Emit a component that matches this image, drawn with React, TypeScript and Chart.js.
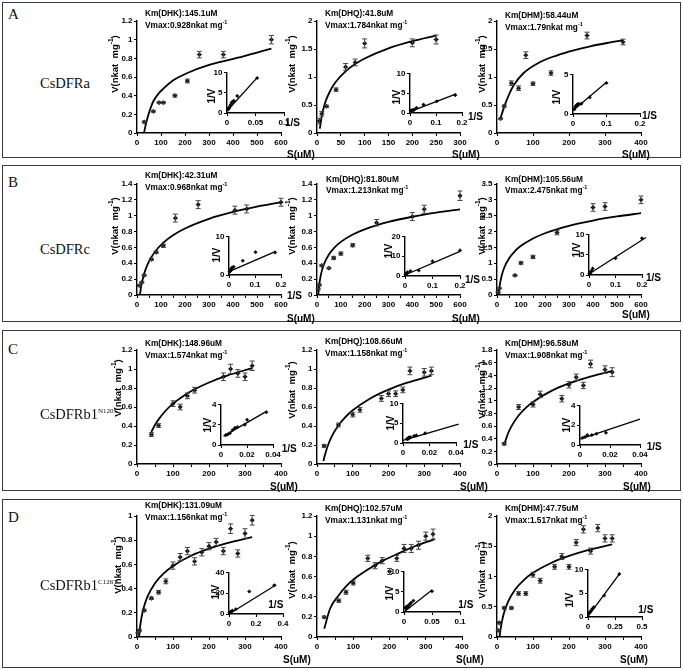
import React, { useEffect, useRef } from 'react';
import { Chart, registerables } from 'chart.js';
Chart.register(...registerables);

// ---------------- DATA ----------------
// Row A – CsDFRa
const A1_S = [30, 68, 92, 110, 158, 210, 260, 360, 560];
const A1_V = [0.118, 0.232, 0.325, 0.325, 0.40, 0.557, 0.84, 0.84, 1.0];
const A1_E = [0.01, 0.01, 0.01, 0.01, 0.015, 0.02, 0.035, 0.035, 0.045];
const A1_FS = [29, 37.5, 47, 57, 68, 89, 110, 151, 210, 304, 443, 560];
const A1_FV = [0, 0.10, 0.19, 0.27, 0.34, 0.42, 0.475, 0.564, 0.643, 0.732, 0.821, 0.904];
const A1_IX = [0.002, 0.003, 0.004, 0.006, 0.008, 0.010, 0.012, 0.018, 0.053];
const A1_IY = [0.9, 1.2, 1.3, 1.9, 2.5, 2.8, 3.0, 4.2, 8.6];
const A1_LX = [0, 0.053];
const A1_LY = [0.5, 8.7];

const A2_S = [5, 10, 20, 40, 60, 80, 100, 200, 250];
const A2_V = [0.214, 0.345, 0.476, 0.774, 1.18, 1.26, 1.6, 1.61, 1.67];
const A2_E = [0.05, 0.04, 0.02, 0.03, 0.06, 0.06, 0.08, 0.07, 0.08];
const A2_FS = [6, 7, 10, 15, 20, 30, 40, 60, 80, 100, 150, 200, 250];
const A2_FV = [0.08, 0.141, 0.30, 0.482, 0.61, 0.791, 0.92, 1.101, 1.23, 1.33, 1.511, 1.639, 1.739];
const A2_IX = [0.004, 0.005, 0.01, 0.0125, 0.0167, 0.025, 0.052, 0.103, 0.174];
const A2_IY = [0.6, 0.62, 0.63, 0.79, 0.85, 1.3, 2.1, 2.95, 4.5];
const A2_LX = [0, 0.178];
const A2_LY = [0.35, 4.8];

const A3_S = [10, 20, 40, 60, 80, 100, 150, 250, 350];
const A3_V = [0.256, 0.48, 0.89, 0.80, 1.39, 0.88, 1.07, 1.74, 1.625];
const A3_E = [0.01, 0.02, 0.04, 0.04, 0.06, 0.03, 0.04, 0.06, 0.05];
const A3_FS = [9.3, 20.4, 32.4, 46.3, 74, 120, 167, 213, 259, 306, 350];
const A3_FV = [0.256, 0.476, 0.673, 0.851, 1.071, 1.268, 1.387, 1.476, 1.548, 1.607, 1.655];
const A3_IX = [0.003, 0.004, 0.007, 0.01, 0.013, 0.017, 0.025, 0.05, 0.1];
const A3_IY = [0.6, 0.6, 0.9, 1.1, 1.2, 1.3, 1.3, 2.1, 3.9];
const A3_LX = [0, 0.1];
const A3_LY = [0.45, 4.0];

// Row B – CsDFRc
const B1_S = [10, 20, 30, 60, 80, 110, 160, 255, 408, 457, 600];
const B1_V = [0.12, 0.16, 0.25, 0.45, 0.54, 0.62, 0.97, 1.14, 1.07, 1.085, 1.17];
const B1_E = [0.01, 0.01, 0.01, 0.015, 0.015, 0.02, 0.05, 0.05, 0.05, 0.05, 0.05];
const B1_FS = [12.5, 15, 20, 30, 45, 60, 80, 110, 150, 200, 300, 400, 500, 600];
const B1_FV = [0.008, 0.062, 0.149, 0.27, 0.392, 0.478, 0.565, 0.66, 0.753, 0.839, 0.961, 1.047, 1.114, 1.169];
const B1_IX = [0.0025, 0.004, 0.006, 0.009, 0.012, 0.018, 0.053, 0.102, 0.177];
const B1_IY = [0.85, 1.0, 1.2, 1.7, 1.9, 2.1, 3.7, 5.9, 5.8];
const B1_LX = [0, 0.18];
const B1_LY = [0.85, 6.1];

const B2_S = [5, 10, 20, 50, 70, 100, 150, 250, 400, 450, 600];
const B2_V = [0.076, 0.127, 0.373, 0.339, 0.467, 0.522, 0.628, 0.912, 0.989, 1.082, 1.252];
const B2_E = [0.01, 0.01, 0.01, 0.01, 0.02, 0.02, 0.02, 0.04, 0.05, 0.05, 0.06];
const B2_FS = [5.5, 7, 10, 15, 20, 30, 50, 75, 100, 150, 200, 300, 400, 500, 600];
const B2_FV = [0.005, 0.061, 0.142, 0.235, 0.301, 0.394, 0.511, 0.604, 0.67, 0.763, 0.828, 0.921, 0.987, 1.038, 1.08];
const B2_IX = [0.002, 0.004, 0.007, 0.01, 0.02, 0.05, 0.1, 0.2];
const B2_IY = [0.8, 1.1, 1.6, 1.9, 2.5, 2.8, 7.4, 12.9];
const B2_LX = [0, 0.2];
const B2_LY = [0.5, 12.4];

const B3_S = [5, 10, 75, 100, 150, 250, 400, 450, 600];
const B3_V = [0.085, 0.21, 0.62, 1.01, 1.2, 1.97, 2.76, 2.79, 3.0];
const B3_E = [0.02, 0.02, 0.03, 0.04, 0.05, 0.07, 0.12, 0.12, 0.12];
const B3_FS = [7, 10, 15, 20, 30, 50, 75, 100, 150, 200, 300, 400, 500, 600];
const B3_FV = [0.021, 0.226, 0.459, 0.625, 0.858, 1.151, 1.384, 1.55, 1.783, 1.948, 2.182, 2.347, 2.476, 2.58];
const B3_IX = [0.0017, 0.0025, 0.004, 0.0067, 0.01, 0.014, 0.1, 0.2];
const B3_IY = [0.33, 0.36, 0.5, 0.83, 1.0, 1.6, 4.1, 9.0];
const B3_LX = [0, 0.215];
const B3_LY = [0.25, 9.2];

// Row C – CsDFRb1 N120S
const C1_S = [40, 60, 100, 120, 140, 160, 240, 260, 280, 300, 320];
const C1_V = [0.31, 0.405, 0.635, 0.60, 0.717, 0.777, 0.918, 1.0, 0.953, 0.918, 1.034];
const C1_E = [0.02, 0.02, 0.03, 0.03, 0.03, 0.03, 0.04, 0.05, 0.04, 0.04, 0.05];
const C1_FS = [40, 50, 60, 80, 100, 130, 160, 200, 250, 320];
const C1_FV = [0.339, 0.411, 0.47, 0.563, 0.635, 0.719, 0.786, 0.858, 0.93, 1.01];
const C1_IX = [0.0036, 0.0051, 0.0069, 0.0089, 0.0107, 0.0127, 0.0183, 0.0201, 0.0349];
const C1_IY = [0.97, 1.03, 1.16, 1.48, 1.68, 1.77, 2.0, 2.48, 3.23];
const C1_LX = [0.002, 0.035];
const C1_LY = [0.87, 3.3];

const C2_S = [20, 60, 100, 120, 180, 200, 220, 240, 260, 300, 320];
const C2_V = [0.19, 0.41, 0.52, 0.57, 0.69, 0.74, 0.74, 0.78, 0.98, 0.965, 0.98];
const C2_E = [0.015, 0.02, 0.025, 0.025, 0.03, 0.03, 0.03, 0.03, 0.04, 0.04, 0.04];
const C2_FS = [18, 20, 25, 30, 40, 60, 80, 100, 150, 200, 250, 320];
const C2_FV = [0.03, 0.063, 0.132, 0.19, 0.28, 0.407, 0.497, 0.566, 0.693, 0.783, 0.853, 0.93];
const C2_IX = [0.0031, 0.0033, 0.0038, 0.0042, 0.0045, 0.005, 0.0056, 0.0083, 0.01, 0.0167];
const C2_IY = [1.02, 1.04, 1.02, 1.28, 1.35, 1.35, 1.45, 1.75, 1.92, 2.44];
const C2_LX = [0, 0.042];
const C2_LY = [0.67, 4.75];

const C3_S = [20, 60, 100, 120, 180, 200, 220, 240, 260, 300, 320];
const C3_V = [0.32, 0.9, 0.94, 1.1, 1.03, 1.25, 1.37, 1.24, 1.58, 1.49, 1.45];
const C3_E = [0.02, 0.04, 0.04, 0.05, 0.05, 0.05, 0.05, 0.05, 0.06, 0.06, 0.07];
const C3_FS = [20, 30, 40, 60, 80, 100, 150, 200, 250, 320];
const C3_FV = [0.302, 0.473, 0.594, 0.765, 0.886, 0.98, 1.151, 1.272, 1.365, 1.469];
const C3_IX = [0.0018, 0.0033, 0.0049, 0.0078, 0.011, 0.0173];
const C3_IY = [0.73, 0.8, 1.0, 1.0, 1.13, 1.23];
const C3_LX = [0, 0.04];
const C3_LY = [0.6, 2.6];

// Row D – CsDFRb1 C126T
const D1_S = [3, 6.5, 20, 40, 60, 80, 100, 120, 140, 160, 180, 200, 220, 240, 260, 280, 300, 320];
const D1_V = [0.036, 0.055, 0.22, 0.32, 0.37, 0.46, 0.59, 0.66, 0.71, 0.625, 0.70, 0.75, 0.785, 0.71, 0.895, 0.69, 0.855, 0.965];
const D1_E = [0.005, 0.01, 0.01, 0.01, 0.015, 0.02, 0.03, 0.03, 0.03, 0.03, 0.03, 0.03, 0.03, 0.03, 0.04, 0.03, 0.04, 0.04];
const D1_FS = [5.8, 8, 10, 15, 20, 30, 50, 75, 100, 150, 200, 250, 320];
const D1_FV = [0.002, 0.068, 0.114, 0.198, 0.257, 0.34, 0.445, 0.528, 0.587, 0.671, 0.73, 0.776, 0.826];
const D1_IX = [0.004, 0.006, 0.01, 0.017, 0.025, 0.05, 0.15, 0.335];
const D1_IY = [1.2, 1.5, 1.8, 2.4, 3.2, 4.6, 21.6, 27.5];
const D1_LX = [0, 0.35];
const D1_LY = [0, 28];

const D2_S = [20, 60, 80, 100, 140, 160, 180, 200, 220, 240, 260, 280, 300, 320];
const D2_V = [0.197, 0.36, 0.444, 0.536, 0.78, 0.707, 0.757, 0.65, 0.78, 0.878, 0.878, 0.91, 1.0, 1.02];
const D2_E = [0.01, 0.015, 0.02, 0.02, 0.03, 0.03, 0.03, 0.03, 0.03, 0.04, 0.04, 0.04, 0.04, 0.05];
const D2_FS = [20, 36, 59, 82, 104, 136, 182, 227, 273, 325];
const D2_FV = [0.082, 0.28, 0.41, 0.51, 0.58, 0.66, 0.757, 0.832, 0.905, 0.97];
const D2_IX = [0.0031, 0.0033, 0.0036, 0.0038, 0.0042, 0.0045, 0.0056, 0.00625, 0.0071, 0.01, 0.0125, 0.0167, 0.05];
const D2_IY = [0.98, 1.0, 1.1, 1.14, 1.14, 1.28, 1.32, 1.41, 1.28, 1.87, 2.25, 2.78, 5.1];
const D2_LX = [0, 0.05];
const D2_LY = [0, 5.4];

const D3_S = [3.5, 6.5, 20, 40, 60, 80, 100, 120, 160, 180, 200, 220, 240, 260, 280, 300, 320];
const D3_V = [0.11, 0.235, 0.48, 0.48, 0.72, 0.72, 1.03, 0.93, 1.16, 1.33, 1.16, 1.56, 1.78, 1.42, 1.8, 1.63, 1.63];
const D3_E = [0.01, 0.02, 0.02, 0.02, 0.03, 0.03, 0.04, 0.04, 0.04, 0.05, 0.04, 0.05, 0.06, 0.05, 0.06, 0.06, 0.06];
const D3_FS = [7.5, 10, 15, 20, 30, 50, 75, 100, 150, 200, 250, 320];
const D3_FV = [0.014, 0.13, 0.294, 0.41, 0.574, 0.78, 0.944, 1.06, 1.224, 1.34, 1.431, 1.53];
const D3_IX = [0.0095, 0.019, 0.028, 0.041, 0.054, 0.15, 0.29];
const D3_IY = [0.83, 1.03, 1.31, 1.72, 2.07, 4.5, 9.0];
const D3_LX = [0, 0.293];
const D3_LY = [0.14, 9.1];

// Text
const KM_LABELS = ['Km(DHK):145.1uM', 'Km(DHQ):41.8uM', 'Km(DHM):58.44uM', 'Km(DHK):42.31uM', 'Km(DHQ):81.80uM', 'Km(DHM):105.56uM',
  'Km(DHK):148.96uM', 'Km(DHQ):108.66uM', 'Km(DHM):96.58uM', 'Km(DHK):131.09uM', 'Km(DHQ):102.57uM', 'Km(DHM):47.75uM'];
const VMAX_LABELS = ['Vmax:0.928nkat mg', 'Vmax:1.784nkat mg', 'Vmax:1.79nkat mg', 'Vmax:0.968nkat mg', 'Vmax:1.213nkat mg', 'Vmax:2.475nkat mg',
  'Vmax:1.574nkat mg', 'Vmax:1.158nkat mg', 'Vmax:1.908nkat mg', 'Vmax:1.156nkat mg', 'Vmax:1.131nkat mg', 'Vmax:1.517nkat mg'];

// ---------------- LAYOUT ----------------
const SANS = "'Liberation Sans', Arial, Helvetica, sans-serif";
const SERIF = "'Liberation Serif', 'Times New Roman', serif";
const MP = { l: 34, r: 14, t: 8, b: 16 };
const IP = { l: 22, r: 10, t: 6, b: 13 };

const PLOTS: any[] = [
  { s: A1_S, v: A1_V, e: A1_E, fs: A1_FS, fv: A1_FV, ix: A1_IX, iy: A1_IY, lx: A1_LX, ly: A1_LY,
    box: [137, 20.7, 281, 132.7], xMax: 600, xStep: 100, minor: false, yMax: 1.2, yStep: 0.2,
    ibox: [226.7, 71.7, 283.3, 112.7], ixMax: 0.1, ixStep: 0.05, iyMax: 10, iyStep: 5,
    ann: [145, 13.3, 25], su: [287, 155], is: [285, 123], iv: [212, 96], yt: [114, 64] },
  { s: A2_S, v: A2_V, e: A2_E, fs: A2_FS, fv: A2_FV, ix: A2_IX, iy: A2_IY, lx: A2_LX, ly: A2_LY,
    box: [316.7, 20.7, 459.5, 132.7], xMax: 300, xStep: 50, minor: false, yMax: 2, yStep: 0.5,
    ibox: [410, 72.7, 461.7, 112.3], ixMax: 0.2, ixStep: 0.1, iyMax: 10, iyStep: 5,
    ann: [325, 13.3, 25], su: [452, 155], is: [468, 117], iv: [397, 97], yt: [291, 64] },
  { s: A3_S, v: A3_V, e: A3_E, fs: A3_FS, fv: A3_FV, ix: A3_IX, iy: A3_IY, lx: A3_LX, ly: A3_LY,
    box: [496.5, 20.7, 640.5, 132.7], xMax: 400, xStep: 100, minor: false, yMax: 2, yStep: 0.5,
    ibox: [573.3, 74, 640, 114.3], ixMax: 0.2, ixStep: 0.1, iyMax: 5, iyStep: 5,
    ann: [505, 15, 26.7], su: [622, 155], is: [642, 116], iv: [557, 97], yt: [481, 64] },
  { s: B1_S, v: B1_V, e: B1_E, fs: B1_FS, fv: B1_FV, ix: B1_IX, iy: B1_IY, lx: B1_LX, ly: B1_LY,
    box: [137, 184, 281, 294.7], xMax: 600, xStep: 100, minor: true, yMax: 1.4, yStep: 0.2,
    ibox: [229.3, 236, 281.7, 275.3], ixMax: 0.2, ixStep: 0.1, iyMax: 10, iyStep: 10,
    ann: [145, 175.3, 187], su: [287, 318.7], is: [287, 296], iv: [216.7, 255], yt: [114, 226] },
  { s: B2_S, v: B2_V, e: B2_E, fs: B2_FS, fv: B2_FV, ix: B2_IX, iy: B2_IY, lx: B2_LX, ly: B2_LY,
    box: [316.7, 184, 459.5, 294.7], xMax: 600, xStep: 100, minor: true, yMax: 1.4, yStep: 0.2,
    ibox: [405, 236, 460, 276.3], ixMax: 0.2, ixStep: 0.1, iyMax: 20, iyStep: 10,
    ann: [326, 178.7, 190.3], su: [452, 318.7], is: [465, 280.3], iv: [389.3, 251.3], yt: [291, 226] },
  { s: B3_S, v: B3_V, e: B3_E, fs: B3_FS, fv: B3_FV, ix: B3_IX, iy: B3_IY, lx: B3_LX, ly: B3_LY,
    box: [496.5, 184, 640.5, 294.7], xMax: 600, xStep: 100, minor: true, yMax: 3.5, yStep: 0.5,
    ibox: [589, 233.7, 641.7, 274.7], ixMax: 0.2, ixStep: 0.1, iyMax: 10, iyStep: 5,
    ann: [505, 178.7, 190.3], su: [622, 315], is: [646, 278], iv: [577.3, 250.3], yt: [481, 226] },
  { s: C1_S, v: C1_V, e: C1_E, fs: C1_FS, fv: C1_FV, ix: C1_IX, iy: C1_IY, lx: C1_LX, ly: C1_LY,
    box: [137, 350, 281, 464], xMax: 400, xStep: 100, minor: true, yMax: 1.2, yStep: 0.2,
    ibox: [221, 404, 273.3, 445.3], ixMax: 0.04, ixStep: 0.02, iyMax: 4, iyStep: 2,
    ann: [145, 343, 354.7], su: [270, 487], is: [281.7, 448.7], iv: [208.3, 424.7], yt: [117, 388] },
  { s: C2_S, v: C2_V, e: C2_E, fs: C2_FS, fv: C2_FV, ix: C2_IX, iy: C2_IY, lx: C2_LX, ly: C2_LY,
    box: [316.7, 350, 459.5, 464], xMax: 400, xStep: 100, minor: true, yMax: 1.2, yStep: 0.2,
    ibox: [403.3, 403, 456.7, 443], ixMax: 0.04, ixStep: 0.02, iyMax: 10, iyStep: 5,
    ann: [325, 341.3, 353], su: [460, 487], is: [463.3, 444.7], iv: [390.7, 423], yt: [291, 390] },
  { s: C3_S, v: C3_V, e: C3_E, fs: C3_FS, fv: C3_FV, ix: C3_IX, iy: C3_IY, lx: C3_LX, ly: C3_LY,
    box: [496.5, 350, 640.5, 464], xMax: 400, xStep: 100, minor: true, yMax: 1.8, yStep: 0.2,
    ibox: [580, 405.3, 640, 445.3], ixMax: 0.04, ixStep: 0.02, iyMax: 4, iyStep: 2,
    ann: [505, 343, 354.7], su: [623, 487], is: [646.7, 447], iv: [567.3, 425.3], yt: [481, 390] },
  { s: D1_S, v: D1_V, e: D1_E, fs: D1_FS, fv: D1_FV, ix: D1_IX, iy: D1_IY, lx: D1_LX, ly: D1_LY,
    box: [137, 515.5, 281, 636.7], xMax: 400, xStep: 100, minor: true, yMax: 1, yStep: 0.2,
    ibox: [229.3, 571.7, 283.3, 614], ixMax: 0.4, ixStep: 0.2, iyMax: 40, iyStep: 20,
    ann: [145, 505, 516.7], su: [283, 660], is: [268.3, 605], iv: [216, 591.7], yt: [117, 565] },
  { s: D2_S, v: D2_V, e: D2_E, fs: D2_FS, fv: D2_FV, ix: D2_IX, iy: D2_IY, lx: D2_LX, ly: D2_LY,
    box: [316.7, 515.5, 462, 636.7], xMax: 400, xStep: 100, minor: true, yMax: 1.2, yStep: 0.2,
    ibox: [404, 571, 460, 612.3], ixMax: 0.1, ixStep: 0.05, iyMax: 10, iyStep: 5,
    ann: [325, 508.3, 520], su: [456, 660], is: [458.3, 605], iv: [390, 593.3], yt: [291, 570] },
  { s: D3_S, v: D3_V, e: D3_E, fs: D3_FS, fv: D3_FV, ix: D3_IX, iy: D3_IY, lx: D3_LX, ly: D3_LY,
    box: [496.5, 515.5, 640.5, 636.7], xMax: 400, xStep: 100, minor: true, yMax: 2, yStep: 0.5,
    ibox: [587.7, 569, 641.7, 617.3], ixMax: 0.5, ixStep: 0.25, iyMax: 10, iyStep: 5,
    ann: [505, 508.3, 520], su: [620, 660], is: [638.3, 610], iv: [570, 600], yt: [481, 570] },
];

const PANELS = [
  { letter: 'A', box: [2, 2, 681, 158], name: 'CsDFRa', sup: '', ly: 14, ny: 83 },
  { letter: 'B', box: [2, 164.5, 681, 322], name: 'CsDFRc', sup: '', ly: 182, ny: 249 },
  { letter: 'C', box: [2, 329.5, 681, 491], name: 'CsDFRb1', sup: 'N120S', ly: 349, ny: 414 },
  { letter: 'D', box: [2, 498.5, 681, 667.5], name: 'CsDFRb1', sup: 'C126T', ly: 517, ny: 585 },
];

// ---------------- HELPERS ----------------
const fmt = (v: number) => String(Math.round(v * 10000) / 10000);

const errPlugin = {
  id: 'errbars',
  afterDatasetsDraw(chart: any) {
    const ctx = chart.ctx;
    const ys = chart.scales.y;
    chart.data.datasets.forEach((ds: any, i: number) => {
      if (!ds.err) return;
      const meta = chart.getDatasetMeta(i);
      ctx.save();
      ctx.strokeStyle = '#444';
      ctx.lineWidth = 1;
      meta.data.forEach((el: any, j: number) => {
        const e = ds.err[j];
        if (!e) return;
        const v = ds.data[j].y;
        const yt = ys.getPixelForValue(v + e);
        const yb = ys.getPixelForValue(v - e);
        const x = el.x;
        ctx.beginPath();
        ctx.moveTo(x, yt); ctx.lineTo(x, yb);
        ctx.moveTo(x - 2.5, yt); ctx.lineTo(x + 2.5, yt);
        ctx.moveTo(x - 2.5, yb); ctx.lineTo(x + 2.5, yb);
        ctx.stroke();
      });
      ctx.restore();
    });
  },
};

function scaleOpts(max: number, step: number, labelStep: number, fit: (s: any) => void) {
  return {
    type: 'linear',
    min: 0,
    max,
    afterFit: fit,
    border: { display: true, color: '#000', width: 1.4 },
    grid: { drawOnChartArea: false, drawTicks: true, tickLength: 3, tickColor: '#000', tickWidth: 1.1 },
    ticks: {
      stepSize: step,
      autoSkip: false,
      maxRotation: 0,
      padding: 1.5,
      color: '#000',
      font: { family: SANS, size: 8, weight: 'bold' },
      callback: (v: any) => {
        const q = v / labelStep;
        return Math.abs(q - Math.round(q)) < 1e-6 ? fmt(v) : '';
      },
    },
  };
}

const pts = (xs: number[], ys: number[]) => xs.map((x, i) => ({ x, y: ys[i] }));

function makeMain(canvas: HTMLCanvasElement, p: any) {
  return new Chart(canvas, {
    type: 'line',
    data: {
      datasets: [
        {
          data: pts(p.s, p.v), showLine: false, pointStyle: 'rectRot', pointRadius: 2.2,
          pointBackgroundColor: '#000', pointBorderColor: '#000', pointBorderWidth: 0.5, clip: false, err: p.e,
        } as any,
        {
          data: pts(p.fs, p.fv), borderColor: '#000', borderWidth: 1.8, pointRadius: 0,
          cubicInterpolationMode: 'monotone', fill: false, clip: false,
        },
      ],
    },
    options: {
      responsive: false, animation: false, events: [],
      plugins: { legend: { display: false }, tooltip: { enabled: false } },
      layout: { padding: { left: 0, right: MP.r, top: MP.t, bottom: 0 } },
      scales: {
        x: scaleOpts(p.xMax, p.minor ? p.xStep / 2 : p.xStep, p.xStep, (s: any) => { s.height = MP.b; }),
        y: scaleOpts(p.yMax, p.yStep, p.yStep, (s: any) => { s.width = MP.l; }),
      } as any,
    },
    plugins: [errPlugin],
  } as any);
}

function makeInset(canvas: HTMLCanvasElement, p: any) {
  return new Chart(canvas, {
    type: 'line',
    data: {
      datasets: [
        {
          data: pts(p.ix, p.iy), showLine: false, pointStyle: 'rectRot', pointRadius: 1.8,
          pointBackgroundColor: '#000', pointBorderColor: '#000', pointBorderWidth: 0.4, clip: false,
        },
        {
          data: pts(p.lx, p.ly), borderColor: '#000', borderWidth: 1.3, pointRadius: 0, fill: false, clip: false,
        },
      ],
    },
    options: {
      responsive: false, animation: false, events: [],
      plugins: { legend: { display: false }, tooltip: { enabled: false } },
      layout: { padding: { left: 0, right: IP.r, top: IP.t, bottom: 0 } },
      scales: {
        x: scaleOpts(p.ixMax, p.ixStep, p.ixStep, (s: any) => { s.height = IP.b; }),
        y: scaleOpts(p.iyMax, p.iyStep, p.iyStep, (s: any) => { s.width = IP.l; }),
      } as any,
    },
  } as any);
}

const abs = (l: number, t: number): React.CSSProperties => ({ position: 'absolute', left: l, top: t });

const Sup = ({ t, size }: { t: string; size: number }) => (
  <sup style={{ fontSize: size, verticalAlign: 'super', lineHeight: 0 }}>{t}</sup>
);

// ---------------- COMPONENT ----------------
export default function App() {
  const mainRefs = useRef<(HTMLCanvasElement | null)[]>([]);
  const insetRefs = useRef<(HTMLCanvasElement | null)[]>([]);

  useEffect(() => {
    const charts: Chart[] = [];
    PLOTS.forEach((p, i) => {
      const mc = mainRefs.current[i];
      const ic = insetRefs.current[i];
      if (mc) charts.push(makeMain(mc, p));
      if (ic) charts.push(makeInset(ic, p));
    });
    return () => charts.forEach((c) => c.destroy());
  }, []);

  return (
    <div style={{ position: 'absolute', left: 0, top: 0, width: 683, height: 670, background: '#fff', overflow: 'hidden' }}>
      {PANELS.map((pn, i) => (
        <div key={'b' + i} style={{ ...abs(pn.box[0], pn.box[1]), width: pn.box[2] - pn.box[0], height: pn.box[3] - pn.box[1],
          border: '1.5px solid #3a3a3a', boxSizing: 'border-box' }} />
      ))}

      {PLOTS.map((p, i) => {
        const [l, t, r, b] = p.box;
        const w = r - l + MP.l + MP.r;
        const h = b - t + MP.t + MP.b;
        const [il, it, ir, ib] = p.ibox;
        const iw = ir - il + IP.l + IP.r;
        const ih = ib - it + IP.t + IP.b;
        return (
          <React.Fragment key={'c' + i}>
            <canvas ref={(el) => { mainRefs.current[i] = el; }} width={Math.round(w)} height={Math.round(h)}
              style={{ ...abs(l - MP.l, t - MP.t), width: Math.round(w), height: Math.round(h) }} />
            <canvas ref={(el) => { insetRefs.current[i] = el; }} width={Math.round(iw)} height={Math.round(ih)}
              style={{ ...abs(il - IP.l, it - IP.t), width: Math.round(iw), height: Math.round(ih) }} />
          </React.Fragment>
        );
      })}

      {PLOTS.map((p, i) => (
        <React.Fragment key={'t' + i}>
          <div style={{ ...abs(p.ann[0], p.ann[1] - 5), font: `bold 8.3px ${SANS}`, lineHeight: '10px', whiteSpace: 'nowrap' }}>
            {KM_LABELS[i]}
          </div>
          <div style={{ ...abs(p.ann[0], p.ann[2] - 5), font: `bold 8.3px ${SANS}`, lineHeight: '10px', whiteSpace: 'nowrap' }}>
            {VMAX_LABELS[i]}<Sup t="-1" size={5.5} />
          </div>
          <div style={{ ...abs(p.yt[0], p.yt[1]), transform: 'translate(-50%,-50%) rotate(-90deg)', font: `bold 9.5px ${SANS}`,
            whiteSpace: 'pre', lineHeight: '11px' }}>
            {'V(nkat  mg'}<Sup t="-1" size={6.5} />{')'}
          </div>
          <div style={{ ...abs(p.su[0], p.su[1] - 6), font: `bold 10px ${SANS}`, lineHeight: '12px', whiteSpace: 'nowrap' }}>S(uM)</div>
          <div style={{ ...abs(p.is[0], p.is[1] - 6), font: `bold 10px ${SANS}`, lineHeight: '12px', whiteSpace: 'nowrap' }}>1/S</div>
          <div style={{ ...abs(p.iv[0], p.iv[1]), transform: 'translate(-50%,-50%) rotate(-90deg)', font: `bold 10px ${SANS}`,
            lineHeight: '12px', whiteSpace: 'nowrap' }}>1/V</div>
        </React.Fragment>
      ))}

      {PANELS.map((pn, i) => (
        <React.Fragment key={'p' + i}>
          <div style={{ ...abs(8, pn.ly - 9), font: `15px ${SERIF}`, lineHeight: '18px', color: '#111' }}>{pn.letter}</div>
          <div style={{ ...abs(40, pn.ny - 10), font: `14.5px ${SERIF}`, lineHeight: '20px', color: '#111', whiteSpace: 'nowrap' }}>
            {pn.name}{pn.sup ? <Sup t={pn.sup} size={7} /> : null}
          </div>
        </React.Fragment>
      ))}
    </div>
  );
}
